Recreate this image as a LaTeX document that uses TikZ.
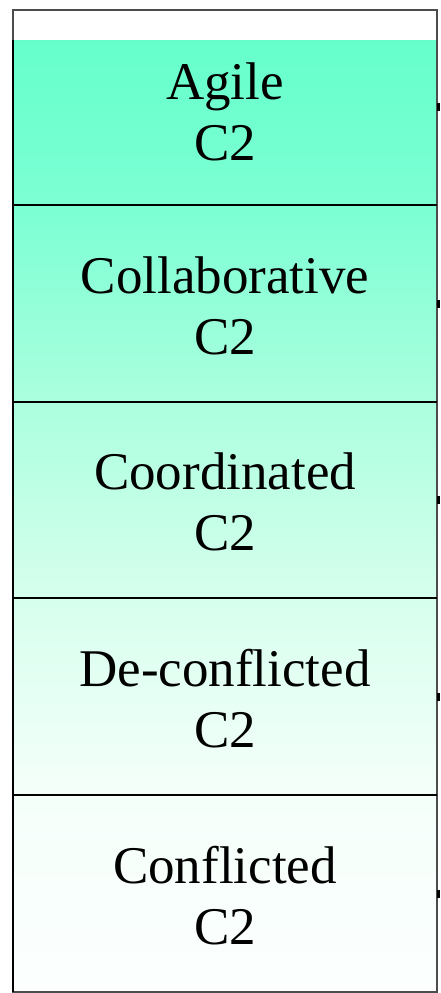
\documentclass[tikz,border=0pt]{standalone}
\usepackage{fontspec}
\setmainfont{Liberation Serif}
\pgfdeclareverticalshading{cshade}{100bp}{rgb(0bp)=(0.988,1,0.996); rgb(25bp)=(0.988,1,0.996); rgb(35.1bp)=(0.961,1,0.98); rgb(45.6bp)=(0.843,1,0.933); rgb(56.1bp)=(0.667,1,0.871); rgb(66bp)=(0.49,1,0.831); rgb(75bp)=(0.4,1,0.8); rgb(100bp)=(0.4,1,0.8)}
\begin{document}
\begin{tikzpicture}[x=1pt,y=-1pt,
  lbl/.style={align=center,font=\fontsize{53}{61}\selectfont,text=black,inner sep=0pt},
  divider/.style={draw=black,line width=2.5pt},
  tick/.style={fill=black}]
\useasboundingbox (0,0) rectangle (440,993);
\fill[white] (0,0) rectangle (440,993);
% shaded body
\shade[shading=cshade] (13,40) rectangle (437,992);
% outer frame
\draw[draw=black!70,line width=1.5pt] (13,10) rectangle (437,992);
\draw[black,line width=2.5pt] (13,40) -- (13,992);
% dividers
\coordinate (d1l) at (13,205); \coordinate (d1r) at (437,205);
\coordinate (d2l) at (13,402); \coordinate (d2r) at (437,402);
\coordinate (d3l) at (13,598); \coordinate (d3r) at (437,598);
\coordinate (d4l) at (13,795); \coordinate (d4r) at (437,795);
\draw[divider] (d1l) -- (d1r);
\draw[divider] (d2l) -- (d2r);
\draw[divider] (d3l) -- (d3r);
\draw[divider] (d4l) -- (d4r);
% right ticks
\foreach \yy in {107,304,500,697,894}{
  \fill[tick] (437,\yy-4) rectangle (440,\yy+4);
}
% labels
\node[lbl] (agile) at (225,112) {Agile\\C2};
\node[lbl] (collab) at (225,306) {Collaborative\\C2};
\node[lbl] (coord) at (225,502) {Coordinated\\C2};
\node[lbl] (decon) at (225,699) {De-conflicted\\C2};
\node[lbl] (confl) at (225,896) {Conflicted\\C2};
\end{tikzpicture}
\end{document}
